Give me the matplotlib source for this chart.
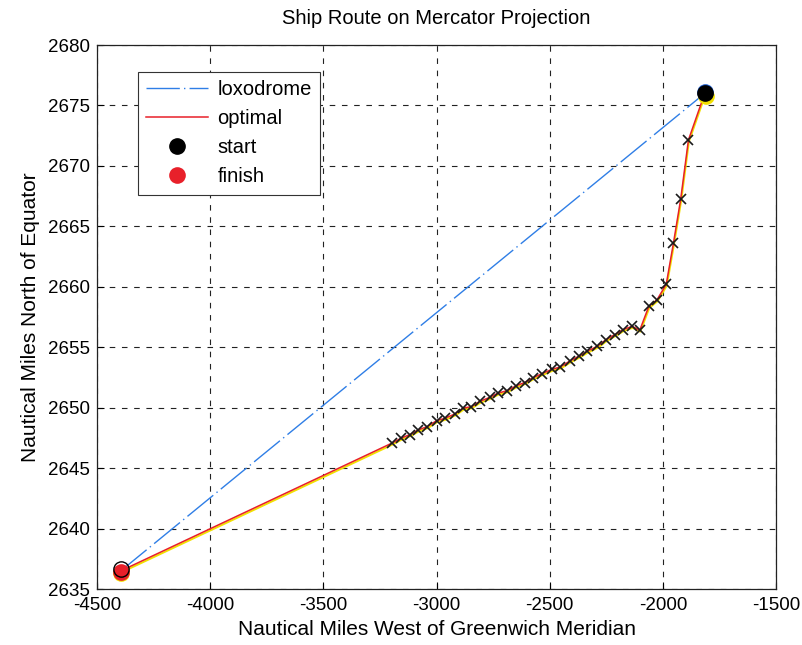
import numpy as np
import matplotlib.pyplot as plt
from matplotlib.transforms import offset_copy

plt.rcParams['font.family'] = ['Liberation Sans', 'DejaVu Sans']
plt.rcParams['axes.unicode_minus'] = False

# start / finish positions (nautical miles)
start = (-1815, 2676.0)
finish = (-4395, 2636.5)

# optimal route waypoints (x marks)
opt_x = [-3197, -3156, -3117, -3080, -3041, -2999, -2963, -2919, -2882, -2846,
         -2809, -2765, -2729, -2689, -2648, -2611, -2572, -2534, -2490, -2453,
         -2411, -2370, -2333, -2289, -2250, -2212, -2175, -2136, -2102, -2062,
         -2026, -1985, -1953, -1921, -1887]
opt_y = [2647.07, 2647.48, 2647.78, 2648.16, 2648.44, 2648.93, 2649.12, 2649.48,
         2649.97, 2650.08, 2650.52, 2650.85, 2651.20, 2651.40, 2651.81, 2652.08,
         2652.49, 2652.82, 2653.17, 2653.37, 2653.86, 2654.27, 2654.68, 2655.09,
         2655.64, 2656.05, 2656.46, 2656.73, 2656.41, 2658.38, 2658.92, 2660.21,
         2663.63, 2667.27, 2672.14]

xticks = [-4500, -4000, -3500, -3000, -2500, -2000, -1500]
yticks = [2635, 2640, 2645, 2650, 2655, 2660, 2665, 2670, 2675, 2680]

route_x = [finish[0]] + opt_x + [start[0]]
route_y = [finish[1]] + opt_y + [start[1]]

fig = plt.figure(figsize=(8.02, 6.45), dpi=100)
ax = fig.add_axes([0.121, 0.0868, 0.8466, 0.8434])

def shifted(dx, dy):
    return offset_copy(ax.transData, fig=fig, x=dx, y=dy, units='dots')

# loxodrome (straight line on Mercator)
lox, = ax.plot([finish[0], start[0]], [finish[1], start[1]], color='#2f7ee6',
               lw=1.0, dashes=[24, 3, 1, 3], label='loxodrome')

# optimal route, red over a slightly shifted yellow trace
ax.plot(route_x, route_y, color='#f2e000', lw=1.4, transform=shifted(0.5, -1.5))
opt, = ax.plot(route_x, route_y, color='#e8202a', lw=1.1, label='optimal')
ax.plot(opt_x, opt_y, 'x', color='#1a1a1a', ms=6.5, mew=1.2)

# start marker
ax.plot(*start, 'o', color='#f2e000', ms=12, mec='none', transform=shifted(1.5, -2.5))
ax.plot(*start, 'o', color='#1f5fd0', ms=12, mec='none', transform=shifted(0, 1.5))
st, = ax.plot(*start, 'o', mfc='black', mec='black', ms=11, label='start')

# finish marker
ax.plot(*finish, 'o', color='#f2e000', ms=12, mec='none', transform=shifted(0, -2.5))
fi, = ax.plot(*finish, 'o', mfc='#e8202a', mec='none', ms=12, label='finish',
              transform=shifted(0, -1))
ax.plot(*finish, 'o', mfc='none', mec='black', ms=11, mew=1.0, transform=shifted(0, 2))

ax.set_xlim(-4500, -1500)
ax.set_ylim(2635, 2680)
ax.set_xticks(xticks)
ax.set_yticks(yticks)
ax.tick_params(direction='in', labelsize=13.5, length=5)
ax.tick_params(axis='y', pad=5)
ax.tick_params(axis='x', pad=6)
ax.grid(True, color='#222222', lw=0.8, dashes=(5, 6))
for s in ax.spines.values():
    s.set_linewidth(0.9)
    s.set_color('#222222')

ax.set_title('Ship Route on Mercator Projection', fontsize=14.5, pad=15)
ax.set_xlabel('Nautical Miles West of Greenwich Meridian', fontsize=15, labelpad=4)
ax.set_ylabel('Nautical Miles North of Equator', fontsize=15, labelpad=6)

leg = ax.legend(handles=[lox, opt, st, fi], loc='upper left',
                bbox_to_anchor=(0.060, 0.950), fontsize=14.5, fancybox=False,
                framealpha=1, edgecolor='#333333', handlelength=3.1,
                handletextpad=0.45, borderpad=0.4, labelspacing=0.5,
                borderaxespad=0)
leg.get_frame().set_linewidth(0.8)

fig.savefig('out.png', dpi=100)
